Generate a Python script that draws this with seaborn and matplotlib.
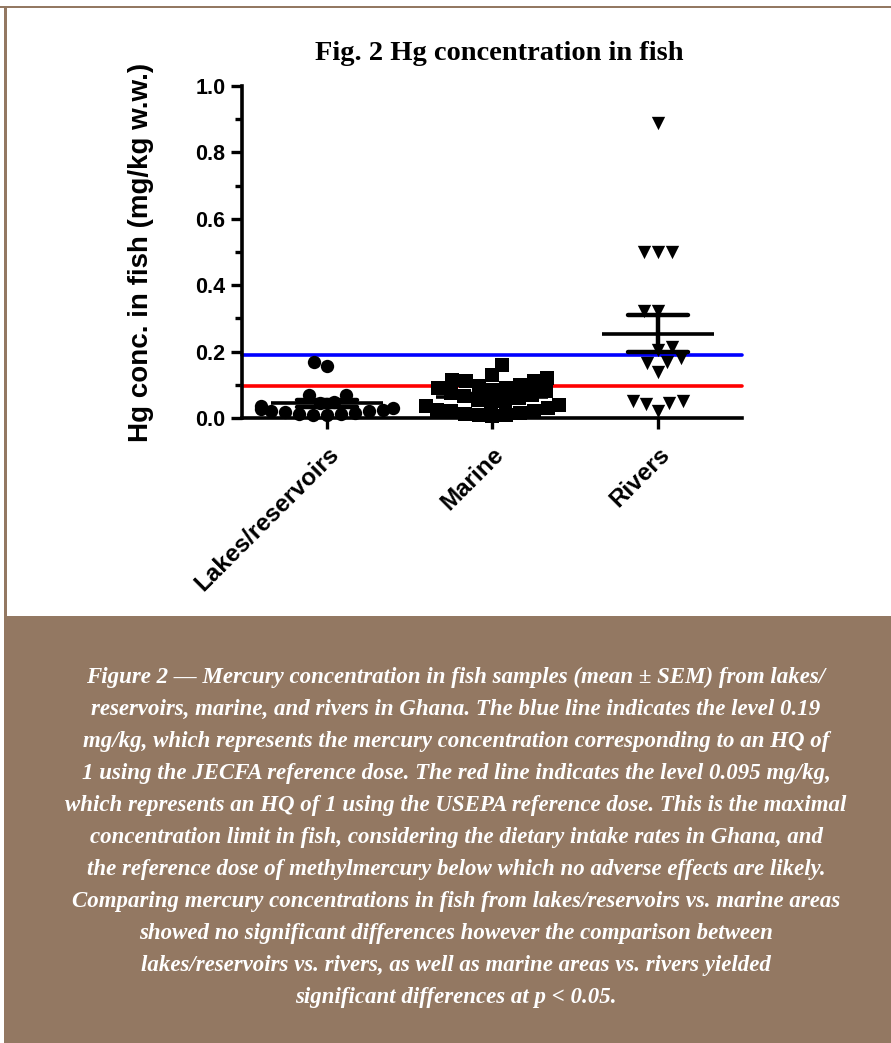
import numpy as np
import pandas as pd
import matplotlib
matplotlib.use("Agg")
import matplotlib.pyplot as plt
from matplotlib.patches import Rectangle
import seaborn as sns

# ---------------- data ----------------
categories = ["Lakes/reservoirs", "Marine", "Rivers"]
lakes = [0.17, 0.158, 0.068, 0.068, 0.048, 0.045, 0.035, 0.03, 0.028, 0.025,
         0.022, 0.02, 0.018, 0.015, 0.012, 0.012, 0.01, 0.01]
marine = [0.16, 0.13, 0.12, 0.115, 0.11, 0.11, 0.10, 0.095, 0.09, 0.09,
          0.085, 0.08, 0.075, 0.07, 0.065, 0.06, 0.055, 0.05, 0.045, 0.04,
          0.035, 0.03, 0.025, 0.02, 0.02, 0.015, 0.012, 0.01, 0.01, 0.005]
rivers = [0.89, 0.50, 0.50, 0.50, 0.323, 0.323, 0.215, 0.205, 0.18, 0.17,
          0.165, 0.14, 0.05, 0.05, 0.045, 0.042, 0.02]
markers = ["o", "s", "v"]
jecfa_level = 0.19
usepa_level = 0.095
yticks = [0.0, 0.2, 0.4, 0.6, 0.8, 1.0]
title = "Fig. 2 Hg concentration in fish"
ylabel = "Hg conc. in fish (mg/kg w.w.)"
caption_lines = [
    "Figure 2 \u2014 Mercury concentration in fish samples (mean \u00b1 SEM) from lakes/",
    "reservoirs, marine, and rivers in Ghana. The blue line indicates the level 0.19",
    "mg/kg, which represents the mercury concentration corresponding to an HQ of",
    "1 using the JECFA reference dose. The red line indicates the level 0.095 mg/kg,",
    "which represents an HQ of 1 using the USEPA reference dose. This is the maximal",
    "concentration limit in fish, considering the dietary intake rates in Ghana, and",
    "the reference dose of methylmercury below which no adverse effects are likely.",
    "Comparing mercury concentrations in fish from lakes/reservoirs vs. marine areas",
    "showed no significant differences however the comparison between",
    "lakes/reservoirs vs. rivers, as well as marine areas vs. rivers yielded",
    "significant differences at p < 0.05.",
]

df = pd.DataFrame({
    "group": [categories[0]] * len(lakes) + [categories[1]] * len(marine) + [categories[2]] * len(rivers),
    "value": lakes + marine + rivers,
})

# ---------------- figure ----------------
sns.set_theme(style="ticks")
plt.rcParams["font.family"] = ["Liberation Sans", "DejaVu Sans"]
plt.rcParams["text.color"] = "black"
plt.rcParams["axes.labelcolor"] = "black"
plt.rcParams["xtick.color"] = "black"
plt.rcParams["ytick.color"] = "black"
plt.rcParams["axes.edgecolor"] = "black"

W, H = 891, 1043
fig = plt.figure(figsize=(W / 100, H / 100), dpi=100)
fig.patch.set_facecolor("white")

brown = "#937862"
# frame lines and caption box
fig.add_artist(Rectangle((0, 1 - 8 / H), 1, 2 / H, transform=fig.transFigure,
                         facecolor=brown, edgecolor="none"))
fig.add_artist(Rectangle((4 / W, 0), 3 / W, 1 - 6 / H, transform=fig.transFigure,
                         facecolor=brown, edgecolor="none"))
fig.add_artist(Rectangle((5 / W, 0), 1, 1 - 616 / H, transform=fig.transFigure,
                         facecolor=brown, edgecolor="none"))

ax = fig.add_axes([242 / W, 1 - 418 / H, (742 - 242) / W, (418 - 86) / H])
ax.set_facecolor("none")

ax.axhline(jecfa_level, color="#0000ff", lw=2.6, zorder=1)
ax.axhline(usepa_level, color="#ff0000", lw=2.6, zorder=1)

for cat, mk in zip(categories, markers):
    sub = df[df["group"] == cat]
    sns.swarmplot(data=sub, x="group", y="value", order=categories, marker=mk,
                  color="black", size=9.6, linewidth=0, ax=ax, warn_thresh=1.0,
                  zorder=3)

sns.pointplot(data=df, x="group", y="value", order=categories, errorbar="se",
              capsize=0.36, color="black", linestyle="none", marker="_",
              markersize=81, markeredgewidth=2.6, err_kws={"linewidth": 3.2},
              ax=ax, zorder=4)

for coll in ax.collections:
    coll.set_clip_on(False)
for ln in ax.lines:
    ln.set_clip_on(False)

ax.set_ylim(0, 1.0)
ax.set_xlim(-0.514, 2.508)
ax.set_yticks(yticks)
ax.set_yticklabels([f"{t:.1f}" for t in yticks], fontsize=15.5, fontweight="bold")
ax.set_yticks(np.arange(0.1, 1.0, 0.2), minor=True)
ax.set_xticks(range(len(categories)))
ax.set_xticklabels(categories, rotation=45, ha="right", rotation_mode="anchor",
                   fontsize=17.5, fontweight="bold")
ax.tick_params(axis="both", which="major", length=8, width=2.4, color="black", pad=4)
ax.tick_params(axis="y", which="minor", length=5, width=2.4, color="black")
ax.tick_params(axis="x", pad=10)
ax.set_xlabel("")
ax.set_ylabel(ylabel, fontsize=20, fontweight="bold")
ax.yaxis.set_label_coords(-0.176, 0.5)
for s in ["left", "bottom"]:
    ax.spines[s].set_linewidth(2.6)
    ax.spines[s].set_color("black")
for s in ["top", "right"]:
    ax.spines[s].set_visible(False)

fig.text(499 / W, 1 - 53 / H, title, ha="center", va="center", color="black",
         family=["Liberation Serif", "DejaVu Serif"], fontweight="bold", fontsize=20.5)

y0, dy = 677, 32
for i, line in enumerate(caption_lines):
    fig.text(456 / W, 1 - (y0 + i * dy) / H, line, ha="center", va="center",
             color="white", family=["Liberation Serif", "DejaVu Serif"],
             style="italic", fontweight="bold", fontsize=16.5)

fig.savefig("out.png", dpi=100, facecolor="white")
